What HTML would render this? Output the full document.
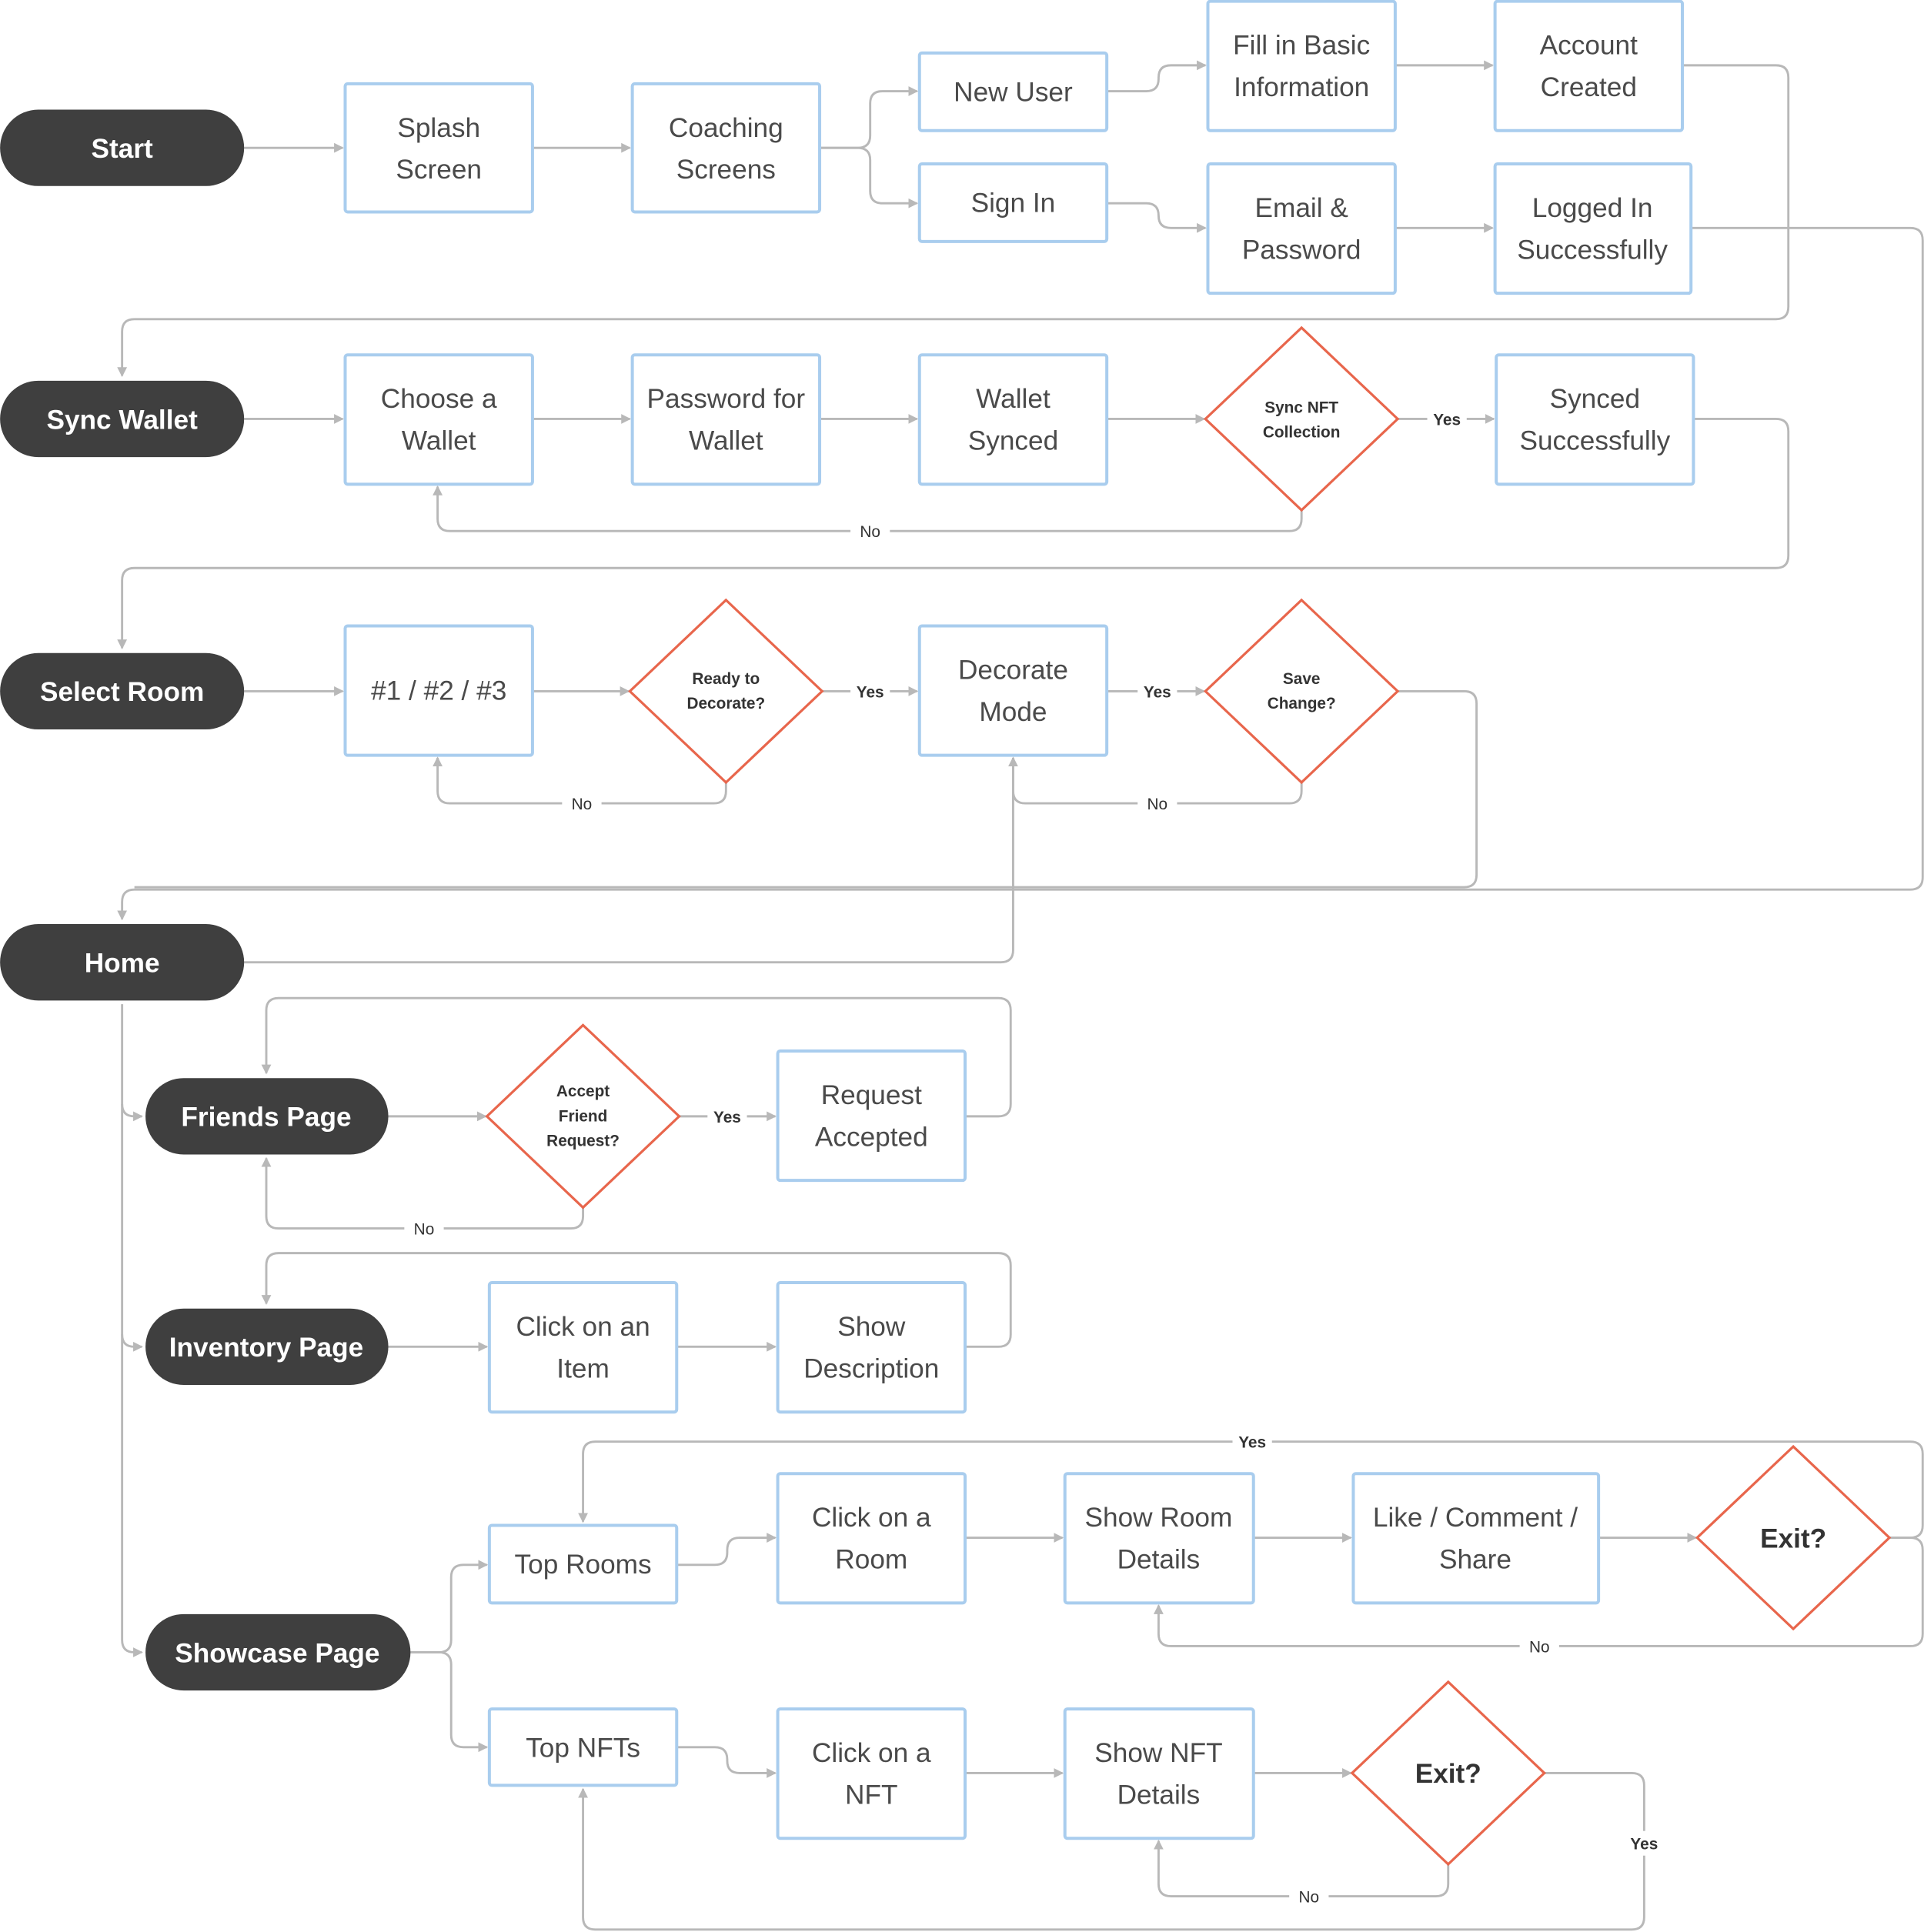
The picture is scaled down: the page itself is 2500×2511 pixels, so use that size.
<!DOCTYPE html>
<html><head><meta charset="utf-8">
<style>
html,body{margin:0;padding:0;background:#fff;}
svg{display:block;}
text{font-family:"Liberation Sans",sans-serif;}
.b{fill:#fff;stroke:#a9cdee;stroke-width:2.5;}
.p{fill:#3f3f3f;}
.d{fill:#fff;stroke:#e8664c;stroke-width:2;}
.c{fill:none;stroke:#b8b8b8;stroke-width:1.8;stroke-linejoin:round;}
.t{font-size:22px;fill:#4a4a4a;text-anchor:middle;}
.pt{font-size:22px;fill:#fff;font-weight:bold;text-anchor:middle;}
.dt{font-size:13px;fill:#333;font-weight:bold;text-anchor:middle;}
.et{font-size:22px;fill:#333;font-weight:bold;text-anchor:middle;}
.l{font-size:13px;fill:#333;font-weight:bold;text-anchor:middle;}
.ln{font-size:13px;fill:#333;text-anchor:middle;}
</style></head><body>
<svg width="2500" height="2511" viewBox="0 0 1561 1568" xmlns="http://www.w3.org/2000/svg">
<defs><marker id="a" markerWidth="8" markerHeight="8" refX="7" refY="4" orient="auto" markerUnits="userSpaceOnUse"><path d="M0,0 L8,4 L0,8 z" fill="#b8b8b8"/></marker></defs>
<rect width="1561" height="1568" fill="#fff"/>
<g class="c" marker-end="url(#a)">
<path d="M198,120H278"/><path d="M432,120H511"/>
<path d="M665,120H696Q706,120 706,110V84Q706,74 716,74H744"/>
<path d="M665,120H696Q706,120 706,130V155Q706,165 716,165H744"/>
<path d="M898,74H930Q940,74 940,64V63Q940,53 950,53H978"/>
<path d="M898,165H930Q940,165 940,175V175Q940,185 950,185H978"/>
<path d="M1132,53H1211"/><path d="M1132,185H1211"/>
<path d="M1365,53H1441Q1451,53 1451,63V249Q1451,259 1441,259H109Q99,259 99,269V305"/>
<path d="M1372,185H1550Q1560,185 1560,195V712Q1560,722 1550,722H109Q99,722 99,732V746"/>
<path d="M198,340H278"/><path d="M432,340H511"/><path d="M665,340H744"/><path d="M898,340H977"/>
<path d="M1134,340H1212"/>
<path d="M1056,414V421Q1056,431 1046,431H365Q355,431 355,421V395"/>
<path d="M1374,340H1441Q1451,340 1451,350V451Q1451,461 1441,461H109Q99,461 99,471V526"/>
<path d="M198,561H278"/><path d="M432,561H510"/><path d="M667,561H744"/><path d="M898,561H977"/>
<path d="M589,635V642Q589,652 579,652H365Q355,652 355,642V615"/>
<path d="M1056,635V642Q1056,652 1046,652H832Q822,652 822,642V615"/>
<path d="M1134,561H1188Q1198,561 1198,571V710Q1198,720 1188,720H109" marker-end="none"/>
<path d="M198,781H812Q822,781 822,771V620" marker-end="none"/>
<path d="M99,815V896Q99,906 109,906H115"/>
<path d="M99,896V1083Q99,1093 109,1093H115"/>
<path d="M99,1083V1331Q99,1341 109,1341H115"/>
<path d="M315,906H394"/><path d="M551,906H629"/>
<path d="M783,906H810Q820,906 820,896V820Q820,810 810,810H226Q216,810 216,820V871"/>
<path d="M473,980V987Q473,997 463,997H226Q216,997 216,987V940"/>
<path d="M315,1093H395"/><path d="M549,1093H629"/>
<path d="M783,1093H810Q820,1093 820,1083V1027Q820,1017 810,1017H226Q216,1017 216,1027V1058"/>
<path d="M333,1341H356Q366,1341 366,1331V1280Q366,1270 376,1270H395"/>
<path d="M333,1341H356Q366,1341 366,1351V1408Q366,1418 376,1418H395"/>
<path d="M549,1270H580Q590,1270 590,1260V1258Q590,1248 600,1248H629"/>
<path d="M783,1248H862"/><path d="M1017,1248H1096"/><path d="M1297,1248H1376"/>
<path d="M1533,1248H1550Q1560,1248 1560,1238V1180Q1560,1170 1550,1170H483Q473,1170 473,1180V1235"/>
<path d="M1533,1248H1550Q1560,1248 1560,1258V1326Q1560,1336 1550,1336H950Q940,1336 940,1326V1303"/>
<path d="M549,1418H580Q590,1418 590,1428V1429Q590,1439 600,1439H629"/>
<path d="M783,1439H862"/><path d="M1017,1439H1096"/>
<path d="M1175,1513V1529Q1175,1539 1165,1539H950Q940,1539 940,1529V1494"/>
<path d="M1253,1439H1324Q1334,1439 1334,1449V1556Q1334,1566 1324,1566H483Q473,1566 473,1556V1452"/>
</g>
<!-- labels -->
<g>
<rect x="1158" y="330" width="32" height="20" fill="#fff"/><text class="l" x="1174" y="345">Yes</text>
<rect x="690" y="421" width="32" height="20" fill="#fff"/><text class="ln" x="706" y="436">No</text>
<rect x="690" y="551" width="32" height="20" fill="#fff"/><text class="l" x="706" y="566">Yes</text>
<rect x="923" y="551" width="32" height="20" fill="#fff"/><text class="l" x="939" y="566">Yes</text>
<rect x="456" y="642" width="32" height="20" fill="#fff"/><text class="ln" x="472" y="657">No</text>
<rect x="923" y="642" width="32" height="20" fill="#fff"/><text class="ln" x="939" y="657">No</text>
<rect x="574" y="896" width="32" height="20" fill="#fff"/><text class="l" x="590" y="911">Yes</text>
<rect x="328" y="987" width="32" height="20" fill="#fff"/><text class="ln" x="344" y="1002">No</text>
<rect x="1000" y="1160" width="32" height="20" fill="#fff"/><text class="l" x="1016" y="1175">Yes</text>
<rect x="1233" y="1326" width="32" height="20" fill="#fff"/><text class="ln" x="1249" y="1341">No</text>
<rect x="1046" y="1529" width="32" height="20" fill="#fff"/><text class="ln" x="1062" y="1544">No</text>
<rect x="1318" y="1486" width="32" height="20" fill="#fff"/><text class="l" x="1334" y="1501">Yes</text>
</g>
<!-- pills -->
<g>
<rect class="p" x="0" y="89" width="198" height="62" rx="31"/><text class="pt" x="99" y="128">Start</text>
<rect class="p" x="0" y="309" width="198" height="62" rx="31"/><text class="pt" x="99" y="348">Sync Wallet</text>
<rect class="p" x="0" y="530" width="198" height="62" rx="31"/><text class="pt" x="99" y="569">Select Room</text>
<rect class="p" x="0" y="750" width="198" height="62" rx="31"/><text class="pt" x="99" y="789">Home</text>
<rect class="p" x="118" y="875" width="197" height="62" rx="31"/><text class="pt" x="216" y="914">Friends Page</text>
<rect class="p" x="118" y="1062" width="197" height="62" rx="31"/><text class="pt" x="216" y="1101">Inventory Page</text>
<rect class="p" x="118" y="1310" width="215" height="62" rx="31"/><text class="pt" x="225" y="1349">Showcase Page</text>
</g>
<!-- boxes -->
<g>
<rect class="b" x="280" y="68" width="152" height="104" rx="2"/><text class="t" x="356" y="111">Splash</text><text class="t" x="356" y="145">Screen</text>
<rect class="b" x="513" y="68" width="152" height="104" rx="2"/><text class="t" x="589" y="111">Coaching</text><text class="t" x="589" y="145">Screens</text>
<rect class="b" x="746" y="43" width="152" height="63" rx="2"/><text class="t" x="822" y="82">New User</text>
<rect class="b" x="746" y="133" width="152" height="63" rx="2"/><text class="t" x="822" y="172">Sign In</text>
<rect class="b" x="980" y="1" width="152" height="105" rx="2"/><text class="t" x="1056" y="44">Fill in Basic</text><text class="t" x="1056" y="78">Information</text>
<rect class="b" x="1213" y="1" width="152" height="105" rx="2"/><text class="t" x="1289" y="44">Account</text><text class="t" x="1289" y="78">Created</text>
<rect class="b" x="980" y="133" width="152" height="105" rx="2"/><text class="t" x="1056" y="176">Email &amp;</text><text class="t" x="1056" y="210">Password</text>
<rect class="b" x="1213" y="133" width="159" height="105" rx="2"/><text class="t" x="1292" y="176">Logged In</text><text class="t" x="1292" y="210">Successfully</text>
<rect class="b" x="280" y="288" width="152" height="105" rx="2"/><text class="t" x="356" y="331">Choose a</text><text class="t" x="356" y="365">Wallet</text>
<rect class="b" x="513" y="288" width="152" height="105" rx="2"/><text class="t" x="589" y="331">Password for</text><text class="t" x="589" y="365">Wallet</text>
<rect class="b" x="746" y="288" width="152" height="105" rx="2"/><text class="t" x="822" y="331">Wallet</text><text class="t" x="822" y="365">Synced</text>
<rect class="b" x="1214" y="288" width="160" height="105" rx="2"/><text class="t" x="1294" y="331">Synced</text><text class="t" x="1294" y="365">Successfully</text>
<rect class="b" x="280" y="508" width="152" height="105" rx="2"/><text class="t" x="356" y="568">#1 / #2 / #3</text>
<rect class="b" x="746" y="508" width="152" height="105" rx="2"/><text class="t" x="822" y="551">Decorate</text><text class="t" x="822" y="585">Mode</text>
<rect class="b" x="631" y="853" width="152" height="105" rx="2"/><text class="t" x="707" y="896">Request</text><text class="t" x="707" y="930">Accepted</text>
<rect class="b" x="397" y="1041" width="152" height="105" rx="2"/><text class="t" x="473" y="1084">Click on an</text><text class="t" x="473" y="1118">Item</text>
<rect class="b" x="631" y="1041" width="152" height="105" rx="2"/><text class="t" x="707" y="1084">Show</text><text class="t" x="707" y="1118">Description</text>
<rect class="b" x="397" y="1238" width="152" height="63" rx="2"/><text class="t" x="473" y="1277">Top Rooms</text>
<rect class="b" x="631" y="1196" width="152" height="105" rx="2"/><text class="t" x="707" y="1239">Click on a</text><text class="t" x="707" y="1273">Room</text>
<rect class="b" x="864" y="1196" width="153" height="105" rx="2"/><text class="t" x="940" y="1239">Show Room</text><text class="t" x="940" y="1273">Details</text>
<rect class="b" x="1098" y="1196" width="199" height="105" rx="2"/><text class="t" x="1197" y="1239">Like / Comment /</text><text class="t" x="1197" y="1273">Share</text>
<rect class="b" x="397" y="1387" width="152" height="62" rx="2"/><text class="t" x="473" y="1426">Top NFTs</text>
<rect class="b" x="631" y="1387" width="152" height="105" rx="2"/><text class="t" x="707" y="1430">Click on a</text><text class="t" x="707" y="1464">NFT</text>
<rect class="b" x="864" y="1387" width="153" height="105" rx="2"/><text class="t" x="940" y="1430">Show NFT</text><text class="t" x="940" y="1464">Details</text>
</g>
<!-- diamonds -->
<g>
<path class="d" d="M1056,266L1134,340L1056,414L978,340Z"/><text class="dt" x="1056" y="335">Sync NFT</text><text class="dt" x="1056" y="355">Collection</text>
<path class="d" d="M589,487L667,561L589,635L511,561Z"/><text class="dt" x="589" y="555">Ready to</text><text class="dt" x="589" y="575">Decorate?</text>
<path class="d" d="M1056,487L1134,561L1056,635L978,561Z"/><text class="dt" x="1056" y="555">Save</text><text class="dt" x="1056" y="575">Change?</text>
<path class="d" d="M473,832L551,906L473,980L395,906Z"/><text class="dt" x="473" y="890">Accept</text><text class="dt" x="473" y="910">Friend</text><text class="dt" x="473" y="930">Request?</text>
<path class="d" d="M1455,1174L1533,1248L1455,1322L1377,1248Z"/><text class="et" x="1455" y="1256">Exit?</text>
<path class="d" d="M1175,1365L1253,1439L1175,1513L1097,1439Z"/><text class="et" x="1175" y="1447">Exit?</text>
</g>
</svg>
</body></html>
